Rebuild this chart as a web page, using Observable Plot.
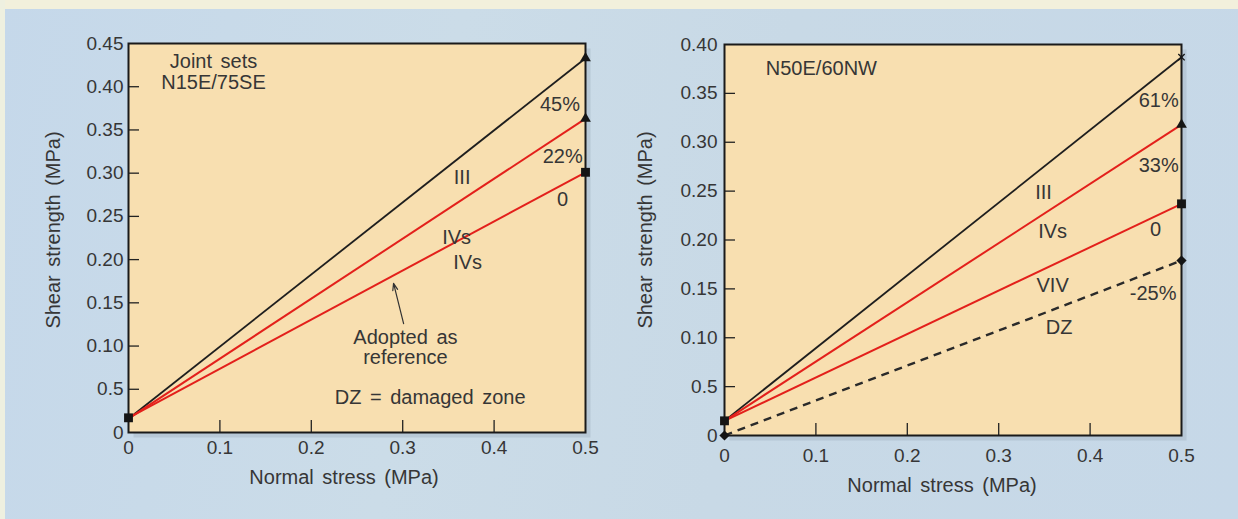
<!DOCTYPE html>
<html>
<head>
<meta charset="utf-8">
<script src="https://cdn.jsdelivr.net/npm/d3@7"></script>
<script src="https://cdn.jsdelivr.net/npm/@observablehq/plot@0.6"></script>
<style>
  html, body { margin: 0; padding: 0; background: #c9dcea; }
  #wrap { position: relative; width: 1238px; height: 519px; overflow: hidden;
    background: linear-gradient(100deg, #c5d8ea 0%, #cbdce8 35%, #c8d9e6 60%, #c6d8e8 100%);
    font-family: "Liberation Sans", Arial, sans-serif; }
  #topstrip { position: absolute; left: 0; top: 0; width: 1238px; height: 9px; background: #f2f0dc; }
  #leftstrip { position: absolute; left: 0; top: 0; width: 5px; height: 519px; background: #eef0e0; }
  .chart { position: absolute; top: 0; width: 619px; height: 519px; }
</style>
</head>
<body>
<div id="wrap">
  <div id="topstrip"></div>
  <div id="leftstrip"></div>
  <div id="c1" class="chart" style="left:0px"></div>
  <div id="c2" class="chart" style="left:619px"></div>
</div>
<script>
// ---------- data ----------
const xTicks = [0, 0.1, 0.2, 0.3, 0.4, 0.5];
const xTickLabels = ["0", "0.1", "0.2", "0.3", "0.4", "0.5"];
const xTickMarks = [0.1, 0.2, 0.3, 0.4];

const leftYTicks = [0, 0.05, 0.10, 0.15, 0.20, 0.25, 0.30, 0.35, 0.40, 0.45];
const leftYTickLabels = ["0", "0.5", "0.10", "0.15", "0.20", "0.25", "0.30", "0.35", "0.40", "0.45"];
const leftYTickMarks = [0.05, 0.10, 0.15, 0.20, 0.25, 0.30, 0.35, 0.40];

const rightYTicks = [0, 0.05, 0.10, 0.15, 0.20, 0.25, 0.30, 0.35, 0.40];
const rightYTickLabels = ["0", "0.5", "0.10", "0.15", "0.20", "0.25", "0.30", "0.35", "0.40"];
const rightYTickMarks = [0.05, 0.10, 0.15, 0.20, 0.25, 0.30, 0.35];

// left panel: Joint sets N15E/75SE
const leftSeries = ["III", "IVs 22%", "IVs 0"];
const leftStart = [0.016, 0.016, 0.017];
const leftEnd = [0.433, 0.363, 0.301];

// right panel: N50E/60NW
const rightSeries = ["III", "IVs", "VIV", "DZ"];
const rightStart = [0.015, 0.015, 0.015, 0.0];
const rightEnd = [0.387, 0.318, 0.237, 0.179];

// origin markers
const leftOriginY = [0.017];
const rightOriginY = [0.015, 0.0];

// annotation labels (data coordinates)
const leftLabelText = ["Joint sets", "N15E/75SE", "45%", "22%", "0", "III", "IVs", "IVs", "Adopted as", "reference", "DZ = damaged zone"];
const leftLabelX = [0.093, 0.093, 0.472, 0.475, 0.475, 0.365, 0.359, 0.371, 0.303, 0.303, 0.330];
const leftLabelY = [0.429, 0.405, 0.379, 0.319, 0.269, 0.295, 0.225, 0.197, 0.110, 0.087, 0.0405];

const rightLabelText = ["N50E/60NW", "61%", "33%", "0", "III", "IVs", "VIV", "-25%", "DZ"];
const rightLabelX = [0.106, 0.475, 0.475, 0.4715, 0.349, 0.359, 0.359, 0.469, 0.366];
const rightLabelY = [0.375, 0.343, 0.276, 0.211, 0.249, 0.209, 0.153, 0.145, 0.110];

// arrow "Adopted as reference"
const leftArrowFrom = [0.301, 0.126];
const leftArrowTo = [0.290, 0.1725];

const xTitle = "Normal stress (MPa)";
const yTitle = "Shear strength (MPa)";

// ---------- styles ----------
const styleBySeries = {
  "III": {stroke: "#1e1e1e", width: 1.8, dash: null},
  "IVs 22%": {stroke: "#e3201b", width: 2, dash: null},
  "IVs 0": {stroke: "#e3201b", width: 2, dash: null},
  "IVs": {stroke: "#e3201b", width: 2, dash: null},
  "VIV": {stroke: "#e3201b", width: 2, dash: null},
  "DZ": {stroke: "#2a2a2a", width: 2.4, dash: "8,6"}
};
const leftEndSymbol = ["triangle", "triangle", "square"];
const rightEndSymbol = ["times", "triangle", "square", "diamond2"];
const leftOriginSymbol = ["square"];
const rightOriginSymbol = ["square", "diamond2"];
const symbolR = {triangle: 4, square: 5, diamond2: 4.6, times: 3};

const FONT = "Liberation Sans, Arial, sans-serif";
const TXT = "#363636";
const FS = 19;      // tick labels
const FS_LAB = 20;  // annotations and titles

function buildChart(cfg) {
  const W = 619, H = 519;
  const rows = [];
  cfg.series.forEach((s, i) => {
    rows.push({series: s, x: 0, y: cfg.start[i]});
    rows.push({series: s, x: 0.5, y: cfg.end[i]});
  });
  const ends = cfg.series.map((s, i) => ({x: 0.5, y: cfg.end[i], symbol: cfg.endSymbol[i]}));
  const origins = cfg.originY.map((y, i) => ({x: 0, y, symbol: cfg.originSymbol[i]}));
  const dots = ends.concat(origins);
  const labels = cfg.labelText.map((t, i) => ({text: t, x: cfg.labelX[i], y: cfg.labelY[i]}));
  const lineMarks = cfg.series.map(s => {
    const st = styleBySeries[s];
    return Plot.line(rows.filter(r => r.series === s), {
      x: "x", y: "y", stroke: st.stroke, strokeWidth: st.width,
      strokeDasharray: st.dash, strokeLinecap: "butt"
    });
  });
  const filledDots = dots.filter(d => d.symbol !== "times");
  const strokeDots = dots.filter(d => d.symbol === "times");
  const yLabelMap = new Map(cfg.yTicks.map((v, i) => [v, cfg.yTickLabels[i]]));
  const xLabelMap = new Map(xTicks.map((v, i) => [v, xTickLabels[i]]));
  const marks = [
    Plot.frame({fill: "#a9b9c8", fillOpacity: 0.55, stroke: null, dx: 5, dy: 5}),
    Plot.frame({fill: "#f8dfb0", stroke: null}),
    Plot.axisY(cfg.yTickMarks, {tickSize: -11, tickFormat: () => "", label: null, stroke: "#222", strokeWidth: 1.3}),
    Plot.axisX(xTickMarks, {tickSize: -12, tickFormat: () => "", label: null, stroke: "#222", strokeWidth: 1.3}),
    ...lineMarks,
    Plot.text(labels, {x: "x", y: "y", text: "text", fontSize: FS_LAB, fill: TXT, fontFamily: FONT}),
    Plot.frame({stroke: "#1a1a1a", strokeWidth: 2}),
    Plot.dot(filledDots, {x: "x", y: "y", symbol: d => d.symbol, r: d => symbolR[d.symbol], fill: "#151515", stroke: null}),
    Plot.dot(strokeDots, {x: "x", y: "y", symbol: d => d.symbol, r: d => symbolR[d.symbol], stroke: "#151515", strokeWidth: 1.3, fill: "none"}),
    Plot.axisY(cfg.yTicks, {tickSize: 0, tickPadding: cfg.yPad, tickFormat: d => yLabelMap.get(d), label: null, fontSize: FS, fill: TXT, fontFamily: FONT}),
    Plot.axisX(xTicks, {tickSize: 0, tickPadding: cfg.xPad, tickFormat: d => xLabelMap.get(d), label: null, fontSize: FS, fill: TXT, fontFamily: FONT}),
    Plot.text([xTitle], {frameAnchor: "bottom", dx: cfg.xTitleDx, dy: cfg.xTitleDy, text: d => d, textAnchor: "middle", fontSize: FS_LAB, fill: TXT, fontFamily: FONT}),
    Plot.text([yTitle], {frameAnchor: "left", dx: cfg.yTitleDx, dy: cfg.yTitleDy, rotate: -90, textAnchor: "middle", text: d => d, fontSize: FS_LAB, fill: TXT, fontFamily: FONT})
  ];
  if (cfg.arrow) {
    marks.push(Plot.arrow([cfg.arrow], {
      x1: d => d.from[0], y1: d => d.from[1], x2: d => d.to[0], y2: d => d.to[1],
      stroke: "#333", strokeWidth: 1.2, headLength: 9, headAngle: 40
    }));
  }
  return Plot.plot({
    width: W, height: H,
    marginLeft: cfg.ml, marginRight: cfg.mr, marginTop: cfg.mt, marginBottom: cfg.mb,
    x: {domain: [0, 0.5]},
    y: {domain: [0, cfg.yMax]},
    r: {type: "identity"},
    symbol: {type: "identity"},
    style: {background: "transparent", fontFamily: FONT, fontSize: FS + "px", color: TXT, overflow: "visible", wordSpacing: "3px"},
    marks
  });
}

const left = buildChart({
  ml: 128, mr: 34, mt: 43, mb: 87, yMax: 0.45,
  yTicks: leftYTicks, yTickLabels: leftYTickLabels, yTickMarks: leftYTickMarks,
  series: leftSeries, start: leftStart, end: leftEnd,
  endSymbol: leftEndSymbol, originY: leftOriginY, originSymbol: leftOriginSymbol,
  labelText: leftLabelText, labelX: leftLabelX, labelY: leftLabelY,
  arrow: {from: leftArrowFrom, to: leftArrowTo},
  yPad: 5, xPad: 8,
  xTitleDx: -13, xTitleDy: 51, yTitleDx: -75, yTitleDy: -8
});
const right = buildChart({
  ml: 105, mr: 57, mt: 44, mb: 84, yMax: 0.40,
  yTicks: rightYTicks, yTickLabels: rightYTickLabels, yTickMarks: rightYTickMarks,
  series: rightSeries, start: rightStart, end: rightEnd,
  endSymbol: rightEndSymbol, originY: rightOriginY, originSymbol: rightOriginSymbol,
  labelText: rightLabelText, labelX: rightLabelX, labelY: rightLabelY,
  arrow: null,
  yPad: 7, xPad: 13,
  xTitleDx: -11, xTitleDy: 56, yTitleDx: -79, yTitleDy: -10
});
document.getElementById("c1").appendChild(left);
document.getElementById("c2").appendChild(right);
</script>
</body>
</html>
